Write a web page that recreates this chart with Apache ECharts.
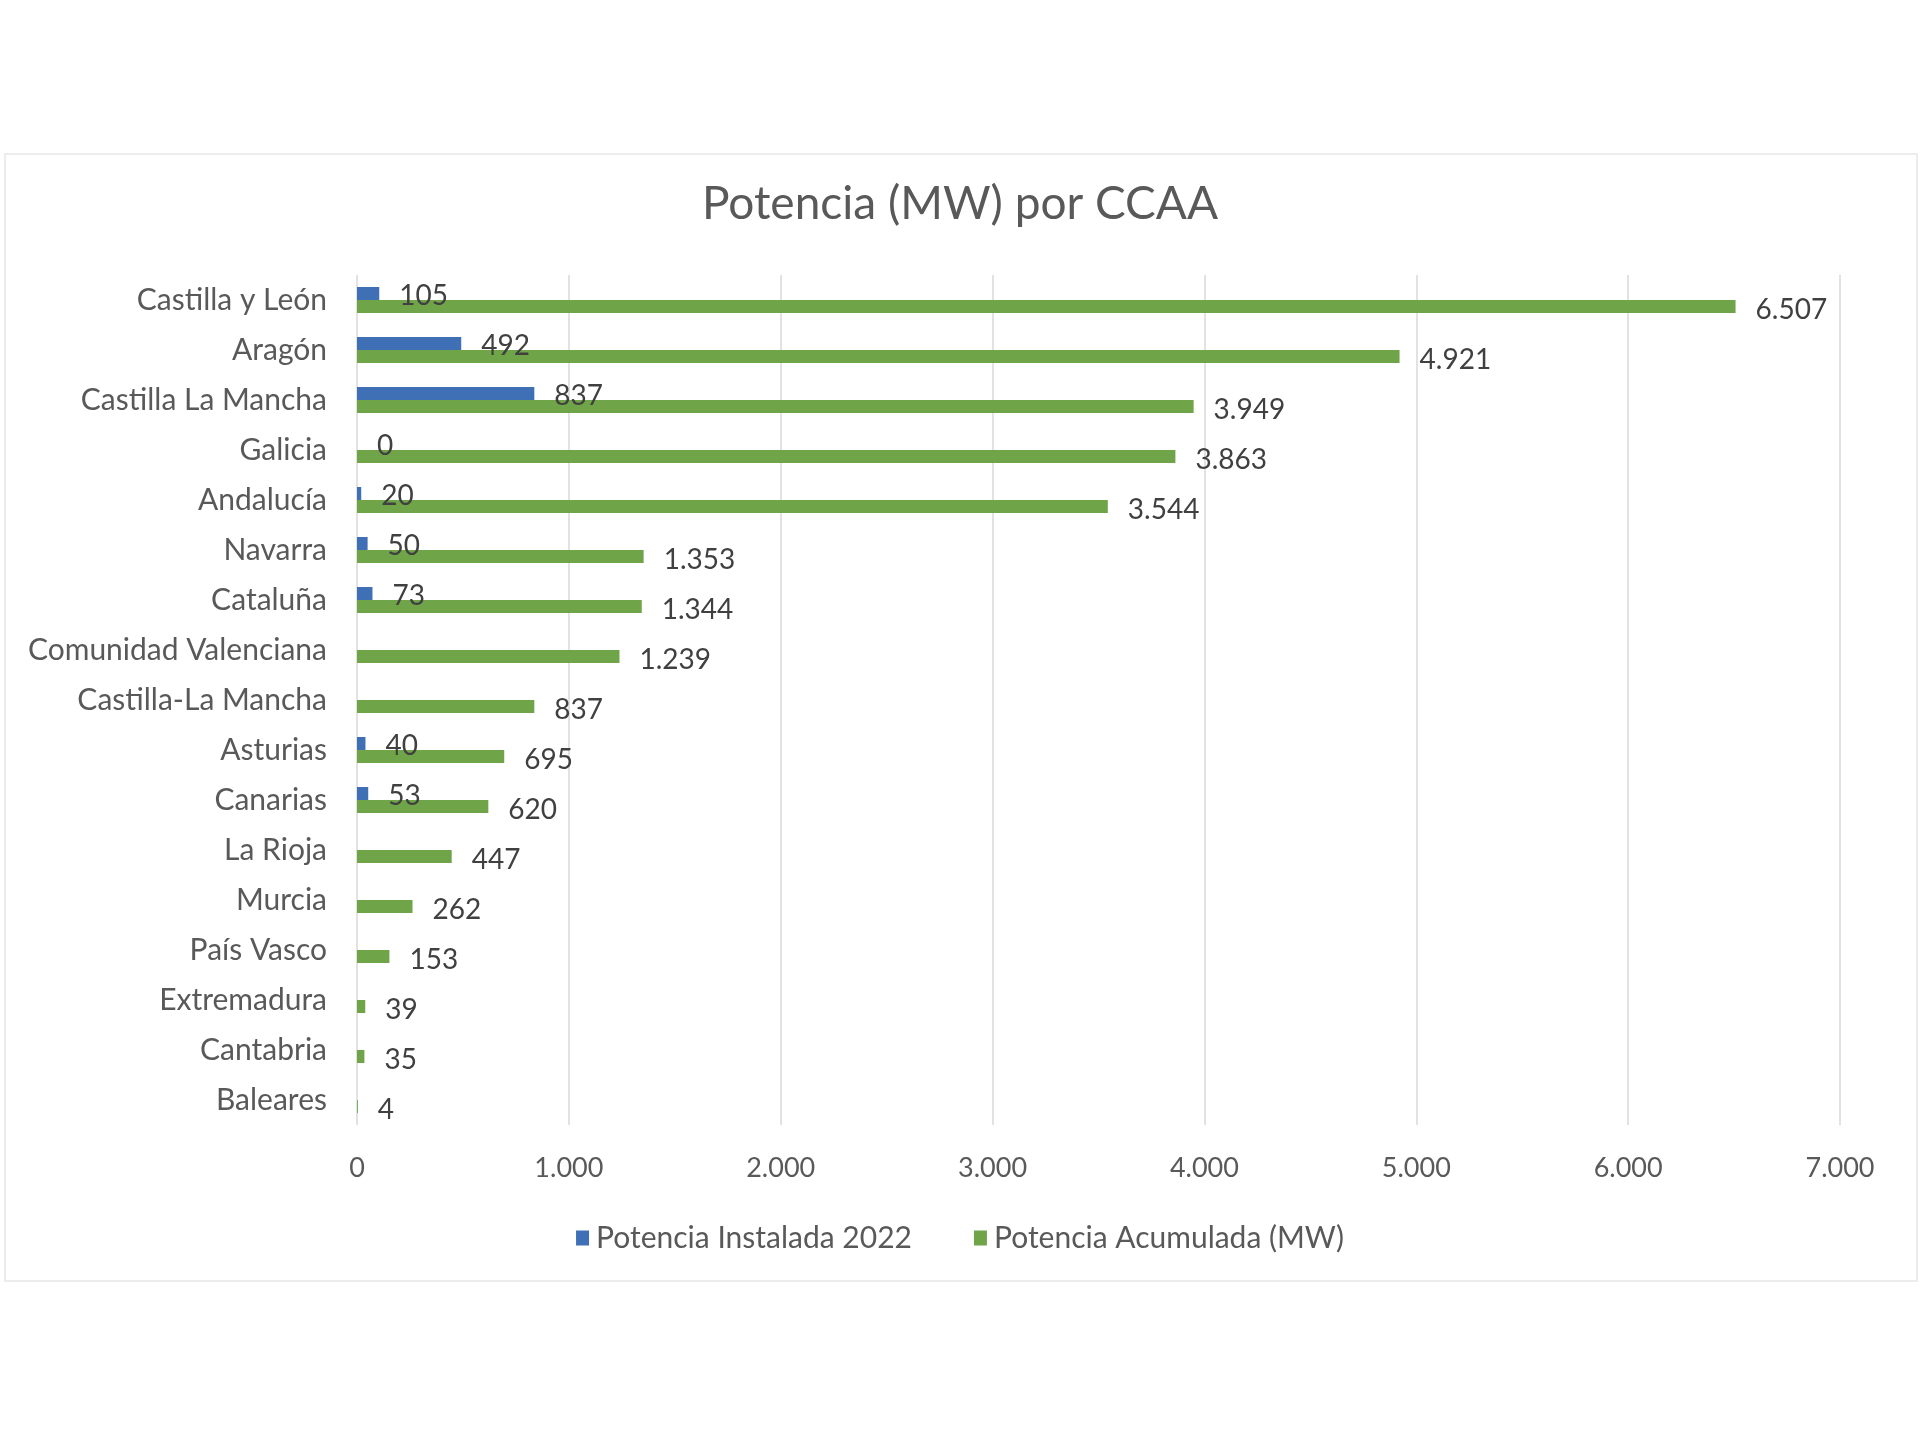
<!DOCTYPE html>
<html>
<head>
<meta charset="utf-8">
<script src="https://cdn.jsdelivr.net/npm/echarts@6/dist/echarts.min.js"></script>
<style>
html,body{margin:0;padding:0;background:#fff;}
#chart{width:1920px;height:1440px;}
</style>
</head>
<body>
<div id="chart"></div>
<script>
const categories = ["Castilla y León","Aragón","Castilla La Mancha","Galicia","Andalucía","Navarra","Cataluña","Comunidad Valenciana","Castilla-La Mancha","Asturias","Canarias","La Rioja","Murcia","País Vasco","Extremadura","Cantabria","Baleares"];
const instalada2022 = [105, 492, 837, 0, 20, 50, 73, null, null, 40, 53, null, null, null, null, null, null];
const acumulada = [6507, 4921, 3949, 3863, 3544, 1353, 1344, 1239, 837, 695, 620, 447, 262, 153, 39, 35, 4];
const xTicks = {min: 0, max: 7000, interval: 1000};
const seriesNames = ["Potencia Instalada 2022", "Potencia Acumulada (MW)"];

function fmt(v) {
  return String(v).replace(/\B(?=(\d{3})+(?!\d))/g, '.');
}

const FONT = 'Lato';
const TXT = '#595959';
const chart = echarts.init(document.getElementById('chart'));
chart.setOption({
  backgroundColor: '#ffffff',
  animation: false,
  graphic: [{
    type: 'rect', left: 4, top: 153, silent: true, z: -10,
    shape: {width: 1912, height: 1127},
    style: {fill: '#ffffff', stroke: '#ececec', lineWidth: 2}
  }],
  title: {
    text: 'Potencia (MW) por CCAA',
    left: 'center', top: 176,
    textStyle: {fontFamily: FONT, fontSize: 46, fontWeight: 'normal', color: TXT}
  },
  legend: {
    bottom: 1440 - 1258, left: 'center',
    itemWidth: 13, itemHeight: 15, itemGap: 62,
    icon: 'rect',
    textStyle: {fontFamily: FONT, fontSize: 30, color: TXT, padding: [0, 0, 0, 2]},
    data: seriesNames
  },
  grid: {left: 357, right: 80, top: 275, height: 850, containLabel: false},
  xAxis: {
    type: 'value', min: xTicks.min, max: xTicks.max, interval: xTicks.interval,
    axisLine: {show: false}, axisTick: {show: false},
    splitLine: {show: true, lineStyle: {color: '#d9d9d9', width: 1.5}},
    axisLabel: {fontFamily: FONT, fontSize: 27, color: TXT, margin: 30, formatter: fmt}
  },
  yAxis: {
    type: 'category', data: categories, inverse: true,
    axisLine: {show: false}, axisTick: {show: false},
    axisLabel: {fontFamily: FONT, fontSize: 30, color: TXT, margin: 30}
  },
  series: [{
    name: seriesNames[0], type: 'bar', data: instalada2022,
    barWidth: 13, barGap: '0%',
    itemStyle: {color: '#3f6fb5'},
    label: {show: true, position: 'right', distance: 20, offset: [0, 2],
      fontFamily: FONT, fontSize: 28, color: '#404040',
      formatter: p => (p.value === null || p.value === undefined) ? '' : fmt(p.value)}
  }, {
    name: seriesNames[1], type: 'bar', data: acumulada,
    barWidth: 13, barGap: '0%',
    itemStyle: {color: '#6fa548'},
    label: {show: true, position: 'right', distance: 20, offset: [0, 3],
      fontFamily: FONT, fontSize: 28, color: '#404040',
      formatter: p => fmt(p.value)}
  }]
});
</script>
</body>
</html>
